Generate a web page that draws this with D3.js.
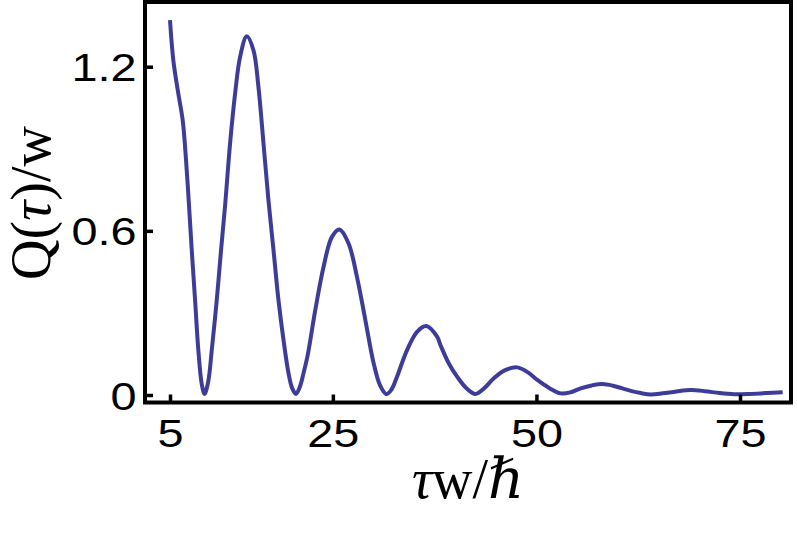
<!DOCTYPE html>
<html>
<head>
<meta charset="utf-8">
<script src="https://cdnjs.cloudflare.com/ajax/libs/d3/7.8.5/d3.min.js"></script>
<style>
  body { margin: 0; background: #fff; }
  svg { display: block; }
  .tick text { font-family: "Liberation Sans", Arial, sans-serif; font-size: 39px; fill: #000; }
  .lab { font-family: "Liberation Serif", "DejaVu Serif", serif; font-size: 56px; fill: #000; }
</style>
</head>
<body>
<svg width="797" height="536"></svg>
<script>
// values: tau*w/hbar and Q(tau)/w
var tau = [5.00, 5.41, 6.02, 6.56, 6.97, 7.37, 7.67, 8.08, 8.48, 8.90, 9.25,
    9.70, 10.13, 10.74, 11.27, 11.77, 12.38, 13.00, 13.61, 14.43, 15.25, 15.86, 16.48, 17.09, 17.71, 18.32, 18.94, 19.55, 20.00, 20.46,
    20.95, 21.40, 21.91, 22.84, 23.86, 24.89, 25.82, 26.93, 27.96, 28.99, 30.01, 30.80, 31.57,
    32.20, 32.88, 34.11, 35.34, 36.49, 37.80, 38.21, 39.23, 40.26, 41.40, 42.52,
    43.60, 44.77, 46.10, 47.65, 49.00, 50.11, 51.60, 52.97,
    54.20, 55.43, 56.80, 58.10, 59.40, 60.56, 61.70, 62.81, 64.04,
    65.50, 67.20, 68.96, 70.70, 72.50, 74.29, 76.20, 78.20, 80.24];
var q = [1.370, 1.223, 1.102, 1.004, 0.858, 0.676, 0.530, 0.347, 0.164, 0.040, 0.004,
    0.050, 0.164, 0.347, 0.530, 0.694, 0.920, 1.103, 1.236, 1.311, 1.260, 1.126, 0.920, 0.712, 0.530, 0.347, 0.201, 0.080, 0.025, 0.004,
    0.030, 0.080, 0.146, 0.310, 0.469, 0.578, 0.605, 0.554, 0.432, 0.274, 0.116, 0.035, 0.003,
    0.020, 0.067, 0.164, 0.231, 0.252, 0.213, 0.183, 0.116, 0.067, 0.025, 0.004,
    0.025, 0.061, 0.090, 0.101, 0.082, 0.055, 0.025, 0.006,
    0.010, 0.024, 0.035, 0.040, 0.034, 0.024, 0.014, 0.007, 0.002,
    0.006, 0.013, 0.018, 0.014, 0.007, 0.003, 0.004, 0.007, 0.010];
var xTicks = [5, 25, 50, 75];
var yTicks = [0, 0.6, 1.2];
var yTickLabels = ["0", "0.6", "1.2"];

var svg = d3.select("svg");

// frame edges (px)
var fLeft = 145, fRight = 791, fTop = 2, fBottom = 402.5;

var x = d3.scaleLinear().domain([5, 75]).range([170, 740]);
var y = d3.scaleLinear().domain([0, 1.2]).range([395, 66.7]);

var data = tau.map(function(t, i) { return { t: t, v: q[i] }; });

var line = d3.line()
    .x(function(d) { return x(d.t); })
    .y(function(d) { return y(d.v); })
    .curve(d3.curveCatmullRom.alpha(0.5));

svg.append("path")
    .datum(data)
    .attr("d", line)
    .attr("fill", "none")
    .attr("stroke", "#3d3d99")
    .attr("stroke-width", 4)
    .attr("stroke-linejoin", "round");

// frame
svg.append("rect")
    .attr("x", fLeft)
    .attr("y", fTop)
    .attr("width", fRight - fLeft)
    .attr("height", fBottom - fTop)
    .attr("fill", "none")
    .attr("stroke", "#000")
    .attr("stroke-width", 4);

var gx = svg.append("g")
    .attr("transform", "translate(0," + fBottom + ")")
    .call(d3.axisBottom(x).tickValues(xTicks).tickSize(-8).tickFormat(d3.format("d")));
gx.select(".domain").remove();
gx.selectAll(".tick line").attr("stroke", "#000").attr("stroke-width", 3.5);
gx.selectAll(".tick text")
    .attr("y", 44.5)
    .attr("dy", null)
    .attr("transform", "scale(1.2,1)");

var gy = svg.append("g")
    .attr("transform", "translate(" + fLeft + ",0)")
    .call(d3.axisLeft(y).tickValues(yTicks).tickSize(-8)
        .tickFormat(function(d, i) { return yTickLabels[i]; }));
gy.select(".domain").remove();
gy.selectAll(".tick line").attr("stroke", "#000").attr("stroke-width", 3.5);
gy.selectAll(".tick text")
    .attr("x", -7)
    .attr("dy", "0.36em")
    .attr("transform", "scale(1.2,1)");

// axis titles
var xl = svg.append("text")
    .attr("class", "lab")
    .attr("x", 468)
    .attr("y", 498)
    .attr("text-anchor", "middle");
xl.append("tspan").attr("font-style", "italic").text("τ");
xl.append("tspan").text("w/");
xl.append("tspan").attr("font-style", "italic").text("ℏ");

var yl = svg.append("text")
    .attr("class", "lab")
    .attr("transform", "translate(50,203) rotate(-90)")
    .attr("text-anchor", "middle");
yl.append("tspan").text("Q(");
yl.append("tspan").attr("font-style", "italic").text("τ");
yl.append("tspan").text(")/w");
</script>
</body>
</html>
